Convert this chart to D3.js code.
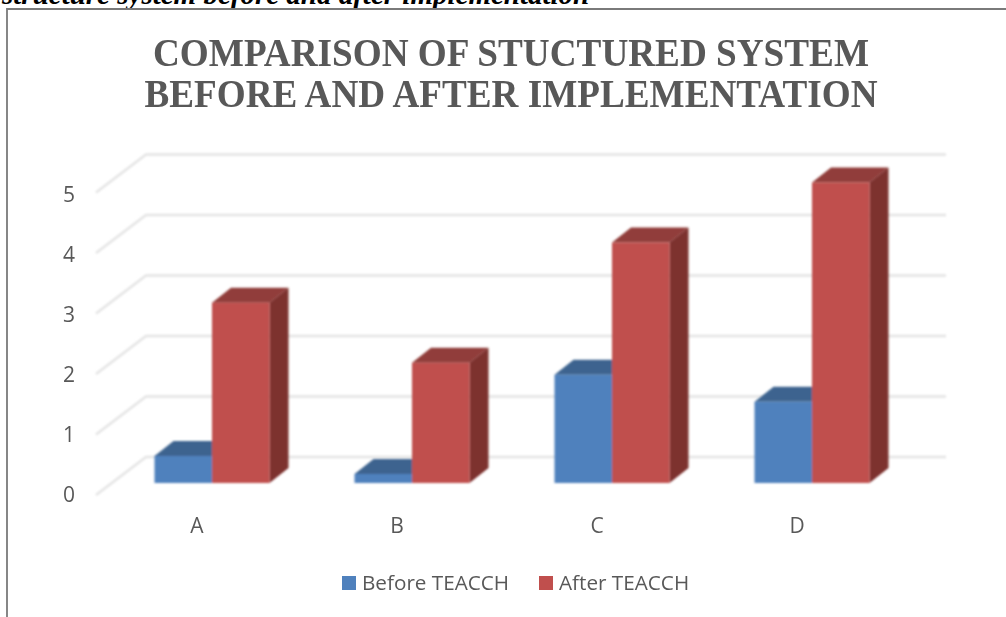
<!DOCTYPE html>
<html>
<head>
<meta charset="utf-8">
<script src="https://cdnjs.cloudflare.com/ajax/libs/d3/7.8.5/d3.min.js"></script>
<style>
  html, body { margin: 0; padding: 0; background: #fff; }
  svg { display: block; }
</style>
</head>
<body>
<div id="chart"></div>
<script>
const categories = ["A", "B", "C", "D"];
const seriesNames = ["Before TEACCH", "After TEACCH"];
const beforeValues = [0.45, 0.15, 1.8, 1.35];
const afterValues = [3, 2, 4, 5];
const yTicks = [0, 1, 2, 3, 4, 5];
const titleLines = ["COMPARISON OF STUCTURED SYSTEM", "BEFORE AND AFTER IMPLEMENTATION"];
const titleWidths = [716, 733];
const captionText = "structure system before and after implementation";

const W = 1006, H = 617;
const BAR_DEPTH = { dx: 19, dy: -15 };
const FLOOR = { dx: 50, dy: -38 };
const LABEL_FONT = "'Open Sans', 'Noto Sans', sans-serif";
const TITLE_FONT = "'Liberation Serif', serif";

const COLORS = [
  { front: "#4f81bd", top: "#3e648f", side: "#33547a" },
  { front: "#c0504d", top: "#913d3a", side: "#7d302e" }
];

const svg = d3.select("#chart").append("svg")
  .attr("width", W)
  .attr("height", H);

// The source is a scaled screenshot, so everything is a little soft
const defs = svg.append("defs");
defs.append("filter").attr("id", "soft")
  .append("feGaussianBlur").attr("stdDeviation", 0.8);
defs.append("filter").attr("id", "textSoft")
  .append("feGaussianBlur").attr("stdDeviation", 0.35);

// Caption cut off by the top of the page, and the chart frame
svg.append("text")
  .attr("x", 2).attr("y", 4)
  .attr("font-family", TITLE_FONT)
  .attr("font-size", 29)
  .attr("font-weight", "bold")
  .attr("font-style", "italic")
  .attr("fill", "#000")
  .text(captionText);

svg.append("path")
  .attr("d", `M7,${H} V9 H${W}`)
  .attr("fill", "none")
  .attr("stroke", "#7a7a7a")
  .attr("stroke-width", 1.8);

// Title
svg.append("g")
  .attr("filter", "url(#textSoft)")
  .selectAll("text")
  .data(titleLines)
  .join("text")
  .attr("x", 511)
  .attr("y", (d, i) => 65.5 + i * 41)
  .attr("text-anchor", "middle")
  .attr("font-family", TITLE_FONT)
  .attr("font-size", 39)
  .attr("font-weight", "bold")
  .attr("fill", "#595959")
  .attr("textLength", (d, i) => titleWidths[i])
  .attr("lengthAdjust", "spacingAndGlyphs")
  .text(d => d);

// Scales: y is the front plane of the bars, yBack the back wall
const y = d3.scaleLinear().domain([0, 5]).range([483, 182.5]);
const yBack = d3.scaleLinear().domain([0, 5]).range([457, 154.5]);
const x0 = d3.scaleBand().domain(categories).range([112, 912]);
const BAR_W = 57.5;
const barX = (cat, si) => x0(cat) + x0.bandwidth() / 2 + (si - 1) * BAR_W;

// Gridlines on the back wall and the floor edge going forward
const grid = svg.append("g")
  .attr("fill", "none")
  .attr("stroke", "#e4e4e4")
  .attr("stroke-width", 2.4)
  .attr("filter", "url(#soft)");

yTicks.forEach(t => {
  const yB = yBack(t);
  grid.append("path")
    .attr("d", `M${146 - FLOOR.dx},${yB - FLOOR.dy} L146,${yB} H946`);
});

// Bars, 3D look made from front, top and side faces
const bars = svg.append("g").attr("filter", "url(#soft)");
const seriesValues = [beforeValues, afterValues];

categories.forEach((cat, ci) => {
  seriesValues.forEach((values, si) => {
    const xL = barX(cat, si), xR = xL + BAR_W;
    const yT = y(values[ci]), yB = y(0);
    const c = COLORS[si];
    const { dx, dy } = BAR_DEPTH;

    bars.append("path")
      .attr("d", `M${xL},${yT} L${xL + dx},${yT + dy} H${xR + dx} L${xR},${yT} Z`)
      .attr("fill", c.top);
    bars.append("path")
      .attr("d", `M${xR},${yT} L${xR + dx},${yT + dy} V${yB + dy} L${xR},${yB} Z`)
      .attr("fill", c.side);
    bars.append("rect")
      .attr("x", xL).attr("y", yT)
      .attr("width", BAR_W).attr("height", yB - yT)
      .attr("fill", c.front);
  });
});

const labels = svg.append("g").attr("filter", "url(#textSoft)");

// Y labels
labels.append("g").selectAll("text")
  .data(yTicks)
  .join("text")
  .attr("x", 69)
  .attr("y", d => y(d) + 19)
  .attr("text-anchor", "middle")
  .attr("font-family", LABEL_FONT)
  .attr("font-size", 21)
  .attr("fill", "#595959")
  .text(d => d);

// Category labels
labels.append("g").selectAll("text")
  .data(categories)
  .join("text")
  .attr("x", d => x0(d) + x0.bandwidth() / 2 - 15)
  .attr("y", 533)
  .attr("text-anchor", "middle")
  .attr("font-family", LABEL_FONT)
  .attr("font-size", 21)
  .attr("fill", "#595959")
  .text(d => d);

// Legend
const legendX = [342, 539];
const legend = labels.append("g").selectAll("g")
  .data(seriesNames)
  .join("g")
  .attr("transform", (d, i) => `translate(${legendX[i]},576)`);

legend.append("rect")
  .attr("width", 14).attr("height", 14)
  .attr("fill", (d, i) => COLORS[i].front);

legend.append("text")
  .attr("x", 20).attr("y", 14)
  .attr("font-family", LABEL_FONT)
  .attr("font-size", 20.7)
  .attr("fill", "#595959")
  .text(d => d);
</script>
</body>
</html>
